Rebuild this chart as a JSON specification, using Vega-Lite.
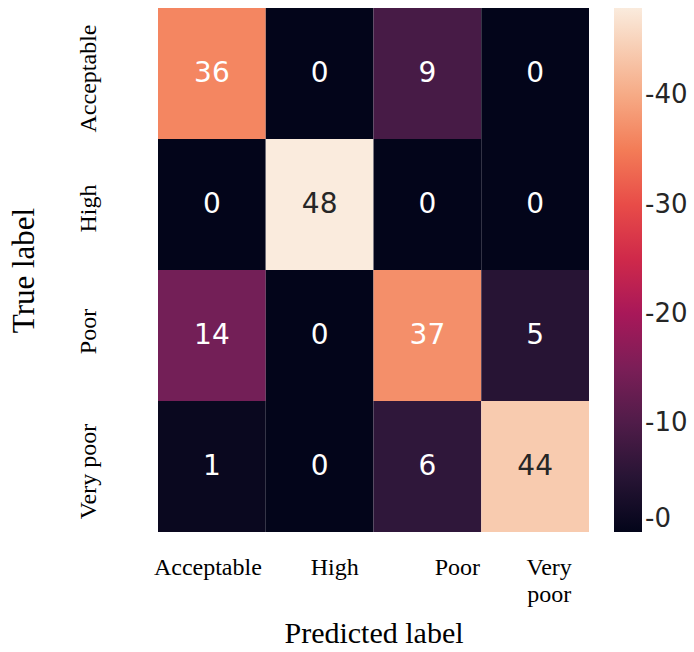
{
  "$schema": "https://vega.github.io/schema/vega-lite/v6.json",
  "width": 431,
  "height": 524,
  "padding": {"left": 8, "top": 8, "right": 2, "bottom": 0},
  "background": "#ffffff",
  "data": {
    "values": [
      {"actual": "Acceptable", "predicted": "Acceptable", "count": 36},
      {"actual": "Acceptable", "predicted": "High", "count": 0},
      {"actual": "Acceptable", "predicted": "Poor", "count": 9},
      {"actual": "Acceptable", "predicted": "Very poor", "count": 0},
      {"actual": "High", "predicted": "Acceptable", "count": 0},
      {"actual": "High", "predicted": "High", "count": 48},
      {"actual": "High", "predicted": "Poor", "count": 0},
      {"actual": "High", "predicted": "Very poor", "count": 0},
      {"actual": "Poor", "predicted": "Acceptable", "count": 14},
      {"actual": "Poor", "predicted": "High", "count": 0},
      {"actual": "Poor", "predicted": "Poor", "count": 37},
      {"actual": "Poor", "predicted": "Very poor", "count": 5},
      {"actual": "Very poor", "predicted": "Acceptable", "count": 1},
      {"actual": "Very poor", "predicted": "High", "count": 0},
      {"actual": "Very poor", "predicted": "Poor", "count": 6},
      {"actual": "Very poor", "predicted": "Very poor", "count": 44}
    ]
  },
  "encoding": {
    "x": {
      "field": "predicted",
      "type": "nominal",
      "sort": ["Acceptable", "High", "Poor", "Very poor"],
      "scale": {"paddingInner": 0, "paddingOuter": 0},
      "axis": {
        "title": "Predicted label",
        "titleFont": "Liberation Serif",
        "titleFontSize": 30,
        "titleFontWeight": "normal",
        "titleColor": "#000000",
        "titlePadding": 12,
        "labelFont": "Liberation Serif",
        "labelFontSize": 24,
        "labelColor": "#000000",
        "labelAngle": 0,
        "labelAlign": "center",
        "labelBaseline": "top",
        "labelPadding": 23,
        "labelLineHeight": 27,
        "labelExpr": "datum.label == 'Very poor' ? ['Very', 'poor'] : datum.label",
        "labelOffset": {"expr": "datum.value == 'Acceptable' ? -4 : datum.value == 'High' ? 15 : datum.value == 'Poor' ? 30 : 14"},
        "domain": false,
        "ticks": false,
        "tickSize": 0
      }
    },
    "y": {
      "field": "actual",
      "type": "nominal",
      "sort": ["Acceptable", "High", "Poor", "Very poor"],
      "scale": {"paddingInner": 0, "paddingOuter": 0},
      "axis": {
        "title": "True label",
        "titleFont": "Liberation Serif",
        "titleFontSize": 31,
        "titleFontWeight": "normal",
        "titleColor": "#000000",
        "titlePadding": 36,
        "labelFont": "Liberation Serif",
        "labelFontSize": 24,
        "labelColor": "#000000",
        "labelAngle": 270,
        "labelAlign": "center",
        "labelBaseline": "bottom",
        "labelPadding": 58,
        "labelOffset": {"expr": "datum.value == 'Acceptable' ? 5 : datum.value == 'High' ? 4 : datum.value == 'Poor' ? -4 : 5"},
        "domain": false,
        "ticks": false,
        "tickSize": 0
      }
    }
  },
  "layer": [
    {
      "mark": {"type": "rect", "strokeWidth": 0},
      "encoding": {
        "color": {
          "field": "count",
          "type": "quantitative",
          "scale": {
            "type": "linear",
            "domain": [0, 48],
            "nice": false,
            "interpolate": "rgb",
            "range": ["#03051A", "#35193E", "#701F57", "#AD1759", "#E13342", "#F37651", "#F6B48F", "#FAEBDD"]
          },
          "legend": {
            "title": null,
            "orient": "right",
            "direction": "vertical",
            "offset": 25,
            "gradientLength": 524,
            "gradientThickness": 28,
            "gradientStrokeWidth": 0,
            "values": [0, 10, 20, 30, 40],
            "labelExpr": "'-' + datum.label",
            "labelFont": "DejaVu Sans",
            "labelFontSize": 26,
            "labelColor": "#262626",
            "labelOffset": 3,
            "labelBaseline": "middle",
            "labelOverlap": false
          }
        }
      }
    },
    {
      "mark": {"type": "text", "font": "DejaVu Sans", "fontSize": 28, "baseline": "middle", "align": "center"},
      "encoding": {
        "text": {"field": "count", "type": "quantitative"},
        "color": {"condition": {"test": "datum.count >= 40", "value": "#262626"}, "value": "#ffffff"}
      }
    }
  ],
  "config": {"view": {"stroke": null}}
}
